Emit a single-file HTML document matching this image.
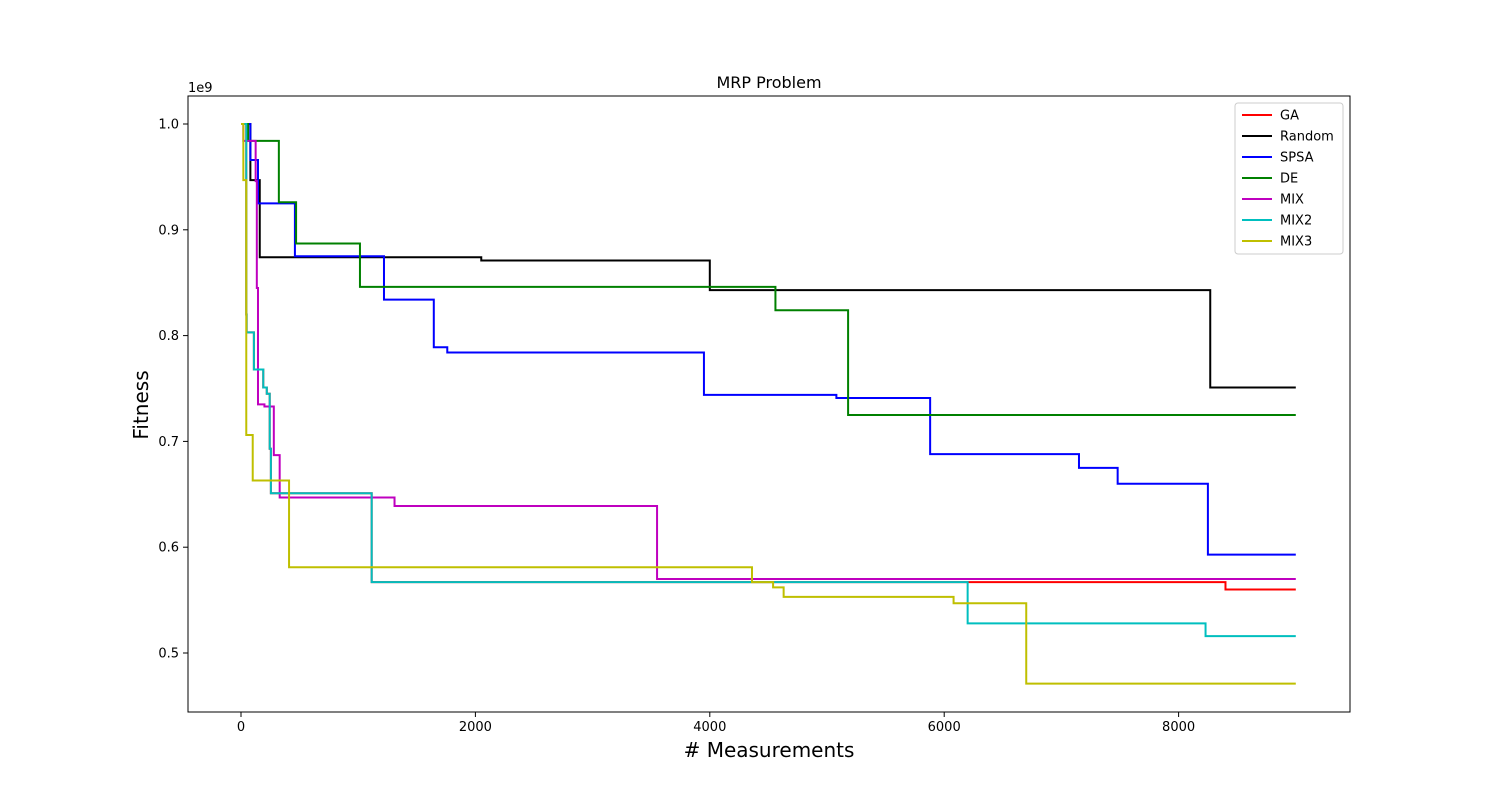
<!DOCTYPE html>
<html><head><meta charset="utf-8"><style>
body{margin:0;background:#fff;}
svg text{font-family:"DejaVu Sans","Liberation Sans",sans-serif;}
</style></head><body>
<svg id="chart" width="1500" height="800" xmlns="http://www.w3.org/2000/svg">
<rect width="1500" height="800" fill="#fff"/>
<g id="plot"></g>
<rect x="188" y="96" width="1162" height="616" fill="none" stroke="#000" stroke-width="1"/>
<g id="axes"></g>
<text x="769" y="88" text-anchor="middle" font-size="16">MRP Problem</text>
<text x="769" y="757" text-anchor="middle" font-size="20">#  Measurements</text>
<text transform="translate(148,405) rotate(-90)" text-anchor="middle" font-size="20">Fitness</text>
<text x="188" y="92" font-size="13">1e9</text>
<g id="legend"></g>
</svg>
<script>
const xTicks=[0,2000,4000,6000,8000];
const yTicks=[0.5,0.6,0.7,0.8,0.9,1.0];
const seriesNames=["GA","Random","SPSA","DE","MIX","MIX2","MIX3"];
const seriesColors=["#ff0000","#000000","#0000ff","#008000","#bf00bf","#00bfbf","#bfbf00"];
const gaX=[0,45,48,110,190,220,245,255,1115,8400,9000];
const gaY=[1.0,0.82,0.803,0.768,0.751,0.745,0.693,0.651,0.567,0.560,0.560];
const randomX=[0,80,160,2050,4000,8270,9000];
const randomY=[1.0,0.947,0.874,0.871,0.843,0.751,0.751];
const spsaX=[0,80,145,460,1220,1645,1760,3950,5080,5880,7150,7480,8250,9000];
const spsaY=[1.0,0.966,0.925,0.875,0.834,0.789,0.784,0.744,0.741,0.688,0.675,0.660,0.593,0.593];
const deX=[0,60,323,470,1015,4560,5180,9000];
const deY=[1.0,0.984,0.926,0.887,0.846,0.824,0.725,0.725];
const mixX=[0,20,125,135,145,200,280,330,1310,3550,9000];
const mixY=[1.0,0.984,0.946,0.845,0.735,0.733,0.687,0.647,0.639,0.570,0.570];
const mix2X=[0,45,48,110,190,220,245,255,1115,6200,8230,9000];
const mix2Y=[1.0,0.82,0.803,0.768,0.751,0.745,0.693,0.651,0.567,0.528,0.516,0.516];
const mix3X=[0,20,45,100,410,4360,4540,4630,6080,6700,9000];
const mix3Y=[1.0,0.947,0.706,0.663,0.581,0.567,0.562,0.553,0.547,0.471,0.471];
const allX=[gaX,randomX,spsaX,deX,mixX,mix2X,mix3X];
const allY=[gaY,randomY,spsaY,deY,mixY,mix2Y,mix3Y];
const NS="http://www.w3.org/2000/svg";
function sx(v){return 241+v*0.1172;}
function sy(v){return 124+(1-v)*1058;}
const plot=document.getElementById('plot');
const drawOrder=[0,1,2,3,4,5,6];
drawOrder.forEach(i=>{
  const xs=allX[i],ys=allY[i];
  let d="M"+sx(xs[0])+","+sy(ys[0]);
  for(let k=1;k<xs.length;k++){d+=" H"+sx(xs[k])+" V"+sy(ys[k]);}
  const p=document.createElementNS(NS,'path');
  p.setAttribute('d',d);p.setAttribute('fill','none');
  p.setAttribute('stroke',seriesColors[i]);p.setAttribute('stroke-width','2');
  
  
  plot.appendChild(p);
});
const axes=document.getElementById('axes');
xTicks.forEach(t=>{
  const l=document.createElementNS(NS,'line');
  l.setAttribute('x1',sx(t));l.setAttribute('x2',sx(t));l.setAttribute('y1',712);l.setAttribute('y2',717);l.setAttribute('stroke','#000');
  
  
  axes.appendChild(l);
  const tx=document.createElementNS(NS,'text');
  tx.setAttribute('x',sx(t));tx.setAttribute('y',731);tx.setAttribute('text-anchor','middle');tx.setAttribute('font-size','13');
  tx.textContent=t;
  
  
  axes.appendChild(tx);
});
yTicks.forEach(t=>{
  const l=document.createElementNS(NS,'line');
  l.setAttribute('x1',183);l.setAttribute('x2',188);l.setAttribute('y1',sy(t));l.setAttribute('y2',sy(t));l.setAttribute('stroke','#000');
  
  
  axes.appendChild(l);
  const tx=document.createElementNS(NS,'text');
  tx.setAttribute('x',179);tx.setAttribute('y',sy(t)+4.5);tx.setAttribute('text-anchor','end');tx.setAttribute('font-size','13');
  tx.textContent=t.toFixed(1);
  
  
  axes.appendChild(tx);
});
const lg=document.getElementById('legend');
const box=document.createElementNS(NS,'rect');
box.setAttribute('x',1235);box.setAttribute('y',103);box.setAttribute('width',108);box.setAttribute('height',151);box.setAttribute('rx',3);
box.setAttribute('fill','#fff');box.setAttribute('stroke','#ccc');


lg.appendChild(box);
seriesNames.forEach((n,i)=>{
  const y=115+i*21;
  const l=document.createElementNS(NS,'line');
  l.setAttribute('x1',1242);l.setAttribute('x2',1272);l.setAttribute('y1',y);l.setAttribute('y2',y);
  l.setAttribute('stroke',seriesColors[i]);l.setAttribute('stroke-width','2');
  
  
  lg.appendChild(l);
  const t=document.createElementNS(NS,'text');
  t.setAttribute('x',1280);t.setAttribute('y',y+4.5);t.setAttribute('font-size','13');
  t.textContent=n;
  
  
  lg.appendChild(t);
});
</script>
</body></html>
